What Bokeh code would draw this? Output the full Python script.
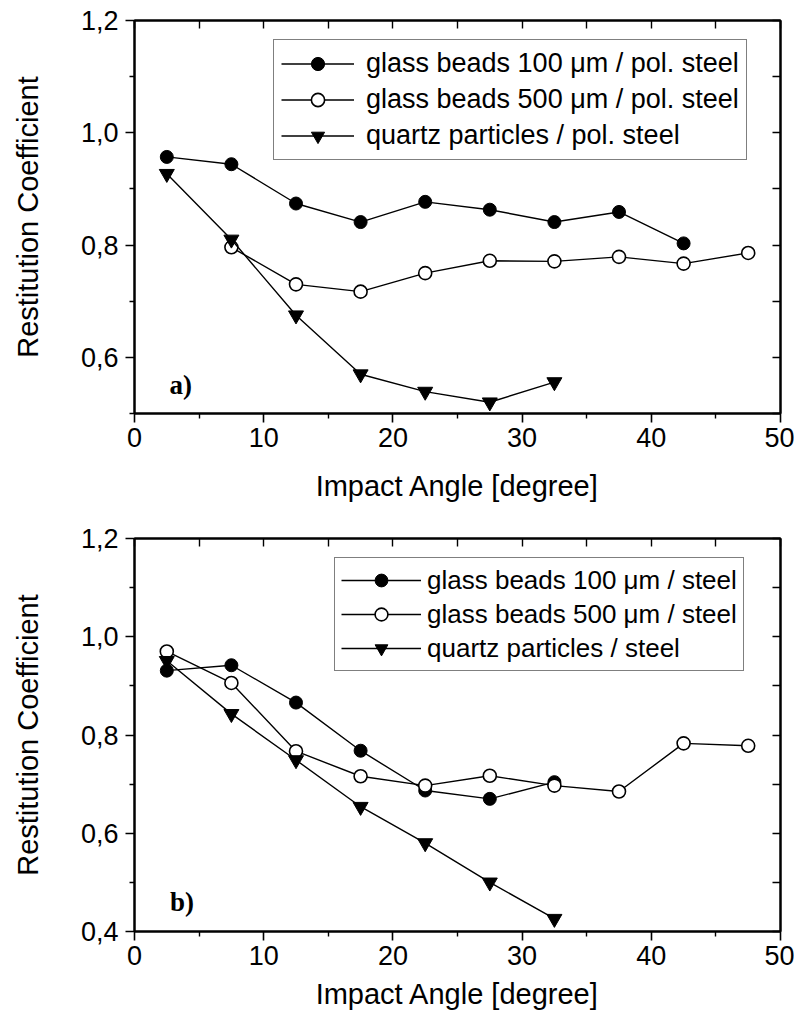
from bokeh.plotting import figure
from bokeh.layouts import column
from bokeh.models import (Range1d, LinearAxis, FixedTicker, CustomJSTickFormatter,
                          Legend, LegendItem, Label)
from bokeh.embed import file_html
from bokeh.resources import INLINE

# ---------------- data ----------------
# panel a (polished steel)
a_gb100_x = [2.5, 7.5, 12.5, 17.5, 22.5, 27.5, 32.5, 37.5, 42.5]
a_gb100_y = [0.957, 0.944, 0.874, 0.841, 0.877, 0.863, 0.841, 0.859, 0.803]
a_gb500_x = [7.5, 12.5, 17.5, 22.5, 27.5, 32.5, 37.5, 42.5, 47.5]
a_gb500_y = [0.796, 0.730, 0.717, 0.750, 0.772, 0.771, 0.779, 0.767, 0.786]
a_qz_x = [2.5, 7.5, 12.5, 17.5, 22.5, 27.5, 32.5]
a_qz_y = [0.927, 0.810, 0.675, 0.570, 0.539, 0.520, 0.556]

# panel b (steel)
b_gb100_x = [2.5, 7.5, 12.5, 17.5, 22.5, 27.5, 32.5]
b_gb100_y = [0.931, 0.942, 0.866, 0.768, 0.687, 0.670, 0.704]
b_gb500_x = [2.5, 7.5, 12.5, 17.5, 22.5, 27.5, 32.5, 37.5, 42.5, 47.5]
b_gb500_y = [0.970, 0.906, 0.767, 0.716, 0.697, 0.717, 0.697, 0.685, 0.783, 0.778]
b_qz_x = [2.5, 7.5, 12.5, 17.5, 22.5, 27.5, 32.5]
b_qz_y = [0.951, 0.843, 0.749, 0.654, 0.580, 0.500, 0.426]

labels_a = ["glass beads 100 \u03bcm / pol. steel",
            "glass beads 500 \u03bcm / pol. steel",
            "quartz particles / pol. steel"]
labels_b = ["glass beads 100 \u03bcm / steel",
            "glass beads 500 \u03bcm / steel",
            "quartz particles / steel"]

x_major = [0, 10, 20, 30, 40, 50]
x_minor = [5, 15, 25, 35, 45]
x_top = [0, 5, 10, 15, 20, 25, 30, 35, 40, 45, 50]
ya_major = [0.6, 0.8, 1.0, 1.2]
yb_major = [0.4, 0.6, 0.8, 1.0, 1.2]
y_minor = [0.5, 0.7, 0.9, 1.1]
ya_right = [0.5, 0.6, 0.7, 0.8, 0.9, 1.0, 1.1, 1.2]
yb_right = [0.4, 0.5, 0.6, 0.7, 0.8, 0.9, 1.0, 1.1, 1.2]

FONT = "Liberation Sans"


def make_panel(ymin, ymajor, yright, series, labels, tag, tag_xy,
               leg_loc, leg_glyph_w, leg_glyph_h, leg_spacing, leg_pad, leg_standoff, leg_font,
               top_border, bottom_border, xlabel_standoff):
    p = figure(frame_width=646, frame_height=393,
               x_range=Range1d(0, 50), y_range=Range1d(ymin, 1.2),
               output_backend="svg", toolbar_location=None,
               min_border_left=134, min_border_right=14,
               min_border_top=top_border, min_border_bottom=bottom_border,
               x_axis_label="Impact Angle [degree]",
               y_axis_label="Restitution Coefficient")
    p.xgrid.visible = False
    p.ygrid.visible = False
    p.outline_line_color = "black"
    p.outline_line_width = 2
    p.background_fill_color = "white"
    p.border_fill_color = "white"

    xa = p.xaxis[0]
    xa.ticker = FixedTicker(ticks=x_major, minor_ticks=x_minor)
    ya = p.yaxis[0]
    ya.ticker = FixedTicker(ticks=ymajor, minor_ticks=y_minor)
    ya.formatter = CustomJSTickFormatter(code="return tick.toFixed(1).replace('.', ',')")
    for ax in (xa, ya):
        ax.axis_line_width = 2
        ax.major_tick_line_width = 1.6
        ax.minor_tick_line_width = 1.4
        ax.major_tick_out = 9
        ax.major_tick_in = 0
        ax.minor_tick_out = 5
        ax.minor_tick_in = 0
        ax.major_label_text_font = FONT
        ax.major_label_text_font_size = "27px"
        ax.major_label_text_color = "black"
        ax.axis_label_text_font = FONT
        ax.axis_label_text_font_size = "29px"
        ax.axis_label_text_font_style = "normal"
        ax.axis_label_text_color = "black"
    xa.major_label_standoff = 5
    xa.axis_label_standoff = xlabel_standoff
    ya.major_label_standoff = 7
    ya.axis_label_standoff = 34

    blank = CustomJSTickFormatter(code="return ''")
    top = LinearAxis(ticker=FixedTicker(ticks=x_top, minor_ticks=[]), formatter=blank,
                     major_tick_in=8, major_tick_out=0, minor_tick_in=0, minor_tick_out=0,
                     major_label_standoff=0,
                     axis_line_width=2, major_tick_line_width=1.4)
    right = LinearAxis(ticker=FixedTicker(ticks=yright, minor_ticks=[]), formatter=blank,
                       major_tick_in=8, major_tick_out=0, minor_tick_in=0, minor_tick_out=0,
                       major_label_standoff=0,
                       axis_line_width=2, major_tick_line_width=1.4)
    p.add_layout(top, "above")
    p.add_layout(right, "right")

    items = []
    styles = [dict(marker="circle", size=13, fill_color="black", line_color="black", line_width=1),
              dict(marker="circle", size=13, fill_color="white", line_color="black", line_width=1.6),
              dict(marker="inverted_triangle", size=15, fill_color="black", line_color="black", line_width=1)]
    for (xs, ys), lab, st in zip(series, labels, styles):
        lr = p.line(xs, ys, line_color="black", line_width=1.4)
        sr = p.scatter(xs, ys, **st)
        items.append(LegendItem(label=lab, renderers=[lr, sr]))

    leg = Legend(items=items, location=leg_loc, padding=leg_pad, spacing=leg_spacing,
                 glyph_height=leg_glyph_h, glyph_width=leg_glyph_w, label_height=leg_glyph_h,
                 label_standoff=leg_standoff, margin=0,
                 label_text_font=FONT, label_text_font_size=leg_font,
                 label_text_color="black",
                 border_line_color="black", border_line_width=1.3,
                 background_fill_color="white", background_fill_alpha=1)
    p.add_layout(leg)

    p.add_layout(Label(x=tag_xy[0], y=tag_xy[1], text=tag, text_font="Liberation Serif",
                       text_font_style="bold", text_font_size="27px",
                       text_baseline="alphabetic", text_color="black"))
    return p


pa = make_panel(0.5, ya_major, ya_right,
                [(a_gb100_x, a_gb100_y), (a_gb500_x, a_gb500_y), (a_qz_x, a_qz_y)],
                labels_a, "a)", (2.7, 0.551), (139, 253), 73, 33, 3, 7, 12, "27px",
                20, 105, 20)
pb = make_panel(0.4, yb_major, yb_right,
                [(b_gb100_x, b_gb100_y), (b_gb500_x, b_gb500_y), (b_qz_x, b_qz_y)],
                labels_b, "b)", (2.75, 0.461), (200, 260), 80, 32, 2, 6, 6, "26px",
                20, 80, 10)

layout = column(pa, pb, spacing=0)
open("out.html", "w").write(file_html(layout, INLINE))
